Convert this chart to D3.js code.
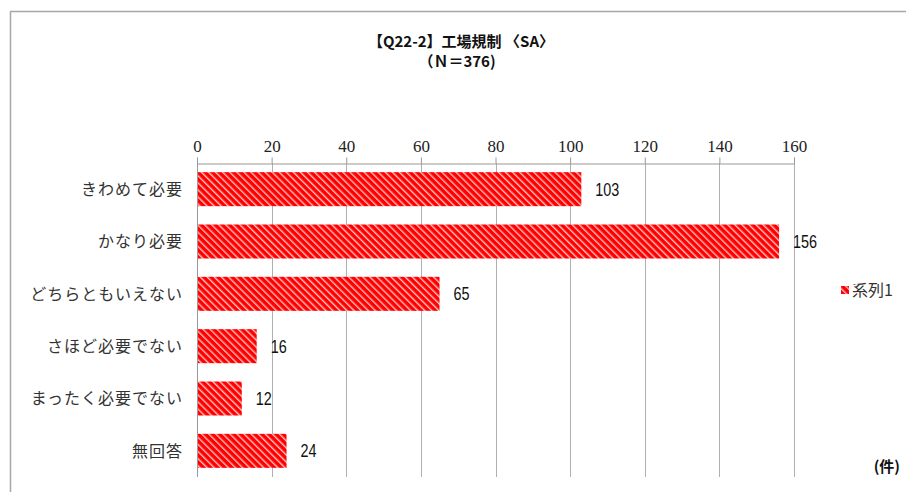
<!DOCTYPE html>
<html><head><meta charset="utf-8">
<script src="https://cdn.jsdelivr.net/npm/d3@7"></script>
<style>body{margin:0;background:#fff}svg{display:block}</style>
</head><body>
<svg id="c" width="906" height="492"></svg>
<script>
const categories = ["きわめて必要","かなり必要","どちらともいえない","さほど必要でない","まったく必要でない","無回答"];
const values = [103,156,65,16,12,24];
const tickValues = [0,20,40,60,80,100,120,140,160];
const titleLines = ["【Q22-2】工場規制 〈SA〉","（Ｎ＝376)"];
const seriesName = "系列1";
const unitLabel = "(件)";

const svg = d3.select("#c");
svg.append("rect").attr("width",906).attr("height",492).attr("fill","#fff");
svg.append("path").attr("d","M10.5,492 V11.5 H906").attr("fill","none").attr("stroke","#a6a6a6").attr("stroke-width",1.5);

const defs = svg.append("defs");
const pat = defs.append("pattern").attr("id","stripe").attr("patternUnits","userSpaceOnUse")
  .attr("width",5).attr("height",5).attr("patternTransform","rotate(-45)");
pat.append("rect").attr("width",5).attr("height",5).attr("fill","#ff0000");
pat.append("rect").attr("x",0).attr("y",0).attr("width",1.4).attr("height",5).attr("fill","#ffc0c0");

const x = d3.scaleLinear().domain([0,160]).range([197,794]);
const y = d3.scaleBand().domain(categories).range([163,477]).paddingInner(0.35).paddingOuter(0.175);

svg.append("g").selectAll("line").data(tickValues).join("line")
  .attr("x1",d=>Math.round(x(d))+0.5).attr("x2",d=>Math.round(x(d))+0.5)
  .attr("y1",163).attr("y2",477).attr("stroke","#b0b0b0").attr("stroke-width",1);

const ax = svg.append("g").attr("transform","translate(0,163.5)")
  .call(d3.axisTop(x).tickValues(tickValues).tickSize(6).tickPadding(6));
ax.select(".domain").attr("stroke","#999");
ax.selectAll(".tick line").attr("stroke","#999");
ax.selectAll("text").attr("font-family","'Liberation Serif','DejaVu Serif',serif").attr("font-size",17).attr("fill","#222");

svg.append("line").attr("x1",197.5).attr("x2",197.5).attr("y1",163).attr("y2",477).attr("stroke","#999");

svg.append("g").selectAll("rect").data(values).join("rect")
  .attr("x",x(0)+1).attr("y",(d,i)=>y(categories[i]))
  .attr("width",d=>x(d)-x(0)-1).attr("height",y.bandwidth())
  .attr("fill","url(#stripe)");

svg.append("g").selectAll("text").data(values).join("text")
  .attr("transform",(d,i)=>`translate(${x(d)+14},${y(categories[i])+y.bandwidth()/2}) scale(0.8,1)`)
  .attr("dy","0.36em").attr("font-family","'Liberation Sans',sans-serif")
  .attr("font-size",18).attr("fill","#111").text(d=>d);

svg.append("g").selectAll("text").data(categories).join("text")
  .attr("x",183).attr("y",d=>y(d)+y.bandwidth()/2).attr("dy","0.36em")
  .attr("text-anchor","end").attr("font-family","'Noto Sans CJK JP',sans-serif")
  .attr("font-size",16).attr("letter-spacing",1).attr("fill","#333").text(d=>d);

svg.append("g").selectAll("text").data(titleLines).join("text")
  .attr("x",(d,i)=>i===0?461:457).attr("y",(d,i)=>47+i*20)
  .attr("text-anchor","middle").attr("font-family","'Noto Sans CJK JP',sans-serif")
  .attr("font-weight","bold").attr("font-size",15).attr("fill","#111").text(d=>d);

svg.append("rect").attr("x",841).attr("y",286).attr("width",8).attr("height",8).attr("fill","url(#stripe)");
svg.append("text").attr("x",852).attr("y",290).attr("dy","0.36em")
  .attr("font-family","'Noto Sans CJK JP',sans-serif").attr("font-size",16).attr("fill","#333").text(seriesName);

svg.append("text").attr("x",900).attr("y",467).attr("dy","0.36em").attr("text-anchor","end")
  .attr("font-family","'Noto Sans CJK JP',sans-serif").attr("font-weight","bold").attr("font-size",15).attr("fill","#111").text(unitLabel);
</script>
</body></html>
